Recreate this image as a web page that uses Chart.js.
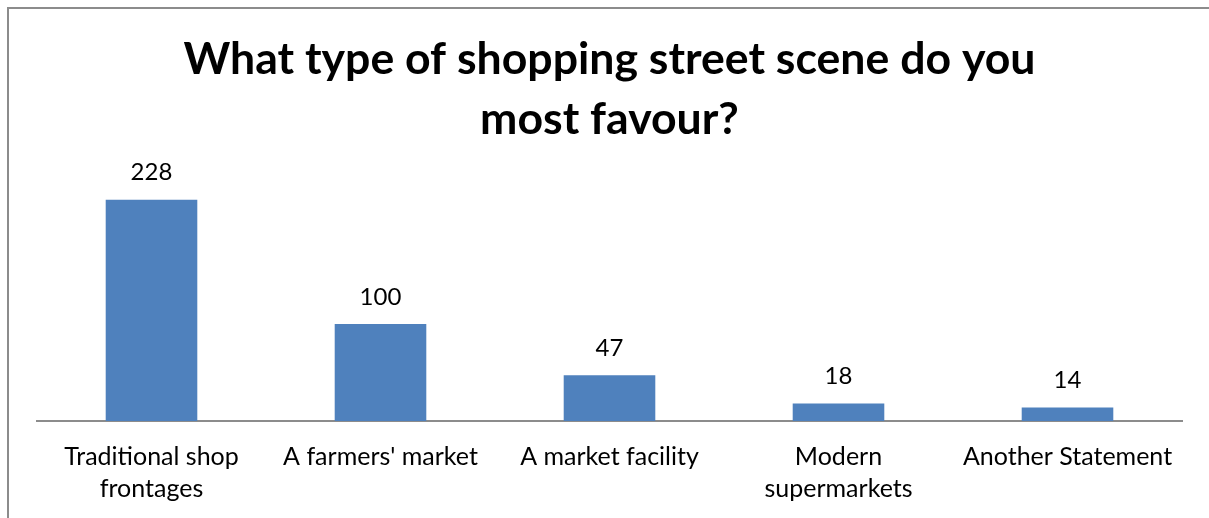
<!DOCTYPE html>
<html>
<head>
<meta charset="utf-8">
<script src="https://cdn.jsdelivr.net/npm/chart.js@4"></script>
<style>
  html, body { margin: 0; padding: 0; background: #fff; overflow: hidden; }
  #frame {
    position: absolute; left: 7px; top: 7px; width: 1400px; height: 700px;
    border-left: 2px solid #8c8c8c; border-top: 2px solid #8c8c8c;
  }
  #wrap { position: absolute; left: 0; top: 0; width: 1209px; height: 518px; }
</style>
</head>
<body>
<div id="frame"></div>
<div id="wrap"><canvas id="myChart" width="1209" height="518"></canvas></div>
<script>
let categories = [
  ['Traditional shop', 'frontages'],
  "A farmers' market",
  'A market facility',
  ['Modern', 'supermarkets'],
  'Another Statement'
];
let responses = [228, 100, 47, 18, 14];
let chartTitle = ['What type of shopping street scene do you', 'most favour?'];

// writes each bar's value just above it
const valueLabels = {
  id: 'valueLabels',
  afterDatasetsDraw(chart) {
    const ctx = chart.ctx;
    ctx.save();
    ctx.font = '24px Lato';
    ctx.fillStyle = '#000';
    ctx.textAlign = 'center';
    ctx.textBaseline = 'middle';
    chart.getDatasetMeta(0).data.forEach((bar, i) => {
      ctx.fillText(responses[i], bar.x, bar.y - 27);
    });
    ctx.restore();
  }
};

function makeChart() {
  let myChart = document.getElementById('myChart').getContext('2d');
  Chart.defaults.font.family = 'Lato';
  Chart.defaults.color = '#000';
  new Chart(myChart, {
    type: 'bar',
    data: {
      labels: categories,
      datasets: [{
        data: responses,
        backgroundColor: '#4F81BD',
        barPercentage: 0.4,
        categoryPercentage: 1
      }]
    },
    options: {
      responsive: false,
      animation: false,
      layout: { padding: { left: 37, right: 27, top: 0, bottom: 1 } },
      plugins: {
        legend: { display: false },
        tooltip: { enabled: false },
        title: {
          display: true,
          text: chartTitle,
          font: { size: 44.6, weight: 'bold', lineHeight: 1.36 },
          padding: { top: 29, bottom: 28 }
        }
      },
      scales: {
        x: {
          grid: { display: false },
          border: { display: true, color: '#8c8c8c', width: 2 },
          ticks: { font: { size: 25, lineHeight: 1.28 }, padding: 12, maxRotation: 0, autoSkip: false }
        },
        y: {
          display: false,
          min: 0,
          max: 250
        }
      }
    },
    plugins: [valueLabels]
  });
}

makeChart();
</script>
</body>
</html>
